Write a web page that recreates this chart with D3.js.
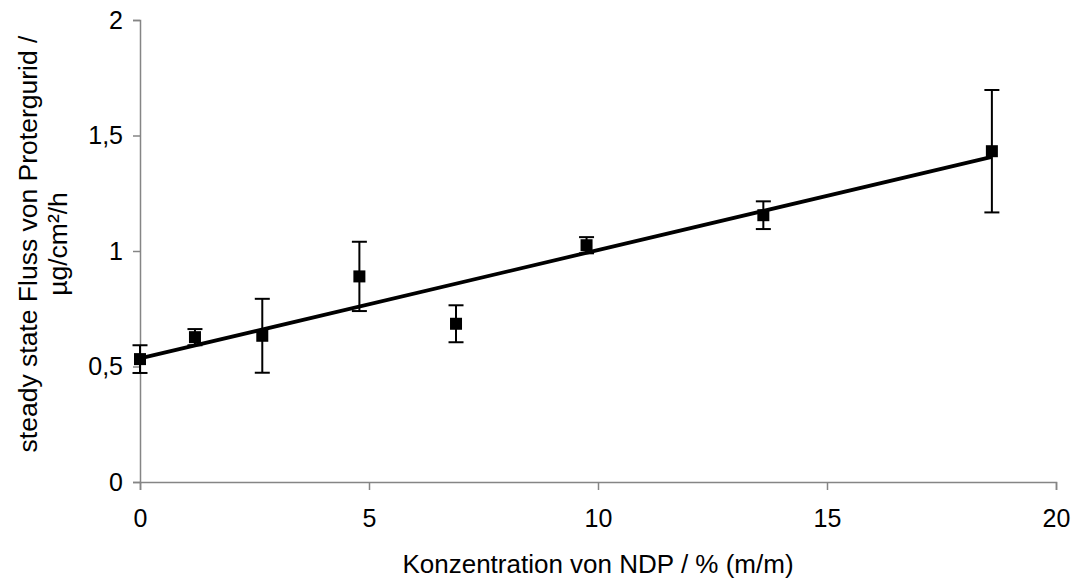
<!DOCTYPE html>
<html lang="de">
<head>
    <meta charset="UTF-8">
    <title>steady state Fluss</title>
    <script src="https://d3js.org/d3.v7.min.js"></script>
    <style>
        body { margin: 0; background: #fff; }
        text { font-family: "Liberation Sans", Arial, sans-serif; fill: #000; }
    </style>
</head>
<body>
    <div id="chart"></div>
    <script>
        const konzentration = [0, 1.2, 2.67, 4.79, 6.9, 9.75, 13.61, 18.6];
        const fluss = [0.532, 0.627, 0.633, 0.89, 0.685, 1.025, 1.155, 1.432];
        const fehler = [0.06, 0.035, 0.16, 0.15, 0.08, 0.035, 0.06, 0.265];

        // Trendlinie
        const trendX = [0, 18.6];
        const trendAchse = 0.535;
        const trendSteigung = 0.0469;

        const xTicks = [0, 5, 10, 15, 20];
        const yTicks = [0, 0.5, 1, 1.5, 2];

        const width = 1074;
        const height = 579;
        const margin = { top: 20, right: 18, bottom: 97, left: 140 };

        const svg = d3.select("#chart")
            .append("svg")
            .attr("width", width)
            .attr("height", height);

        const x = d3.scaleLinear()
            .domain([0, 20])
            .range([margin.left, width - margin.right]);

        const y = d3.scaleLinear()
            .domain([0, 2])
            .range([height - margin.bottom, margin.top]);

        const fmt = d => String(d).replace(".", ",");

        // Achsen
        const xAxis = svg.append("g")
            .attr("transform", `translate(0,${y(0)})`)
            .call(d3.axisBottom(x).tickValues(xTicks).tickSize(8).tickPadding(19).tickFormat(fmt));

        const yAxis = svg.append("g")
            .attr("transform", `translate(${x(0)},0)`)
            .call(d3.axisLeft(y).tickValues(yTicks).tickSize(7).tickPadding(10).tickFormat(fmt));

        [xAxis, yAxis].forEach(g => {
            g.select(".domain").attr("stroke", "#858585").attr("stroke-width", 1.5);
            g.selectAll(".tick line").attr("stroke", "#858585").attr("stroke-width", 1.5);
            g.selectAll(".tick text").attr("font-size", 25).attr("fill", "#000");
        });

        // Fehlerbalken
        const bars = svg.append("g")
            .selectAll("g")
            .data(konzentration)
            .enter().append("g");

        bars.append("line")
            .attr("x1", (d, i) => x(d))
            .attr("x2", (d, i) => x(d))
            .attr("y1", (d, i) => y(fluss[i] + fehler[i]))
            .attr("y2", (d, i) => y(fluss[i] - fehler[i]))
            .attr("stroke", "#000")
            .attr("stroke-width", 2);

        [1, -1].forEach(s => {
            bars.append("line")
                .attr("x1", d => x(d) - 7.5)
                .attr("x2", d => x(d) + 7.5)
                .attr("y1", (d, i) => y(fluss[i] + s * fehler[i]))
                .attr("y2", (d, i) => y(fluss[i] + s * fehler[i]))
                .attr("stroke", "#000")
                .attr("stroke-width", 2);
        });

        // Trendlinie
        svg.append("path")
            .datum(trendX)
            .attr("fill", "none")
            .attr("stroke", "#000")
            .attr("stroke-width", 3.8)
            .attr("d", d3.line()
                .x(d => x(d))
                .y(d => y(trendAchse + trendSteigung * d)));

        // Messpunkte
        svg.append("g")
            .selectAll("rect")
            .data(konzentration)
            .enter().append("rect")
            .attr("x", d => x(d) - 6)
            .attr("y", (d, i) => y(fluss[i]) - 6)
            .attr("width", 12)
            .attr("height", 12)
            .attr("fill", "#000");

        // Achsentitel
        svg.append("text")
            .attr("x", (x(0) + x(20)) / 2)
            .attr("y", 573)
            .attr("text-anchor", "middle")
            .attr("font-size", 26)
            .text("Konzentration von NDP / % (m/m)");

        const yLabel = svg.append("text")
            .attr("transform", "translate(37,244) rotate(-90)")
            .attr("text-anchor", "middle")
            .attr("font-size", 26.5);
        yLabel.append("tspan")
            .attr("x", 0).attr("y", 0)
            .text("steady state Fluss von Protergurid /");
        yLabel.append("tspan")
            .attr("x", 0).attr("y", 30)
            .text("µg/cm²/h");
    </script>
</body>
</html>
